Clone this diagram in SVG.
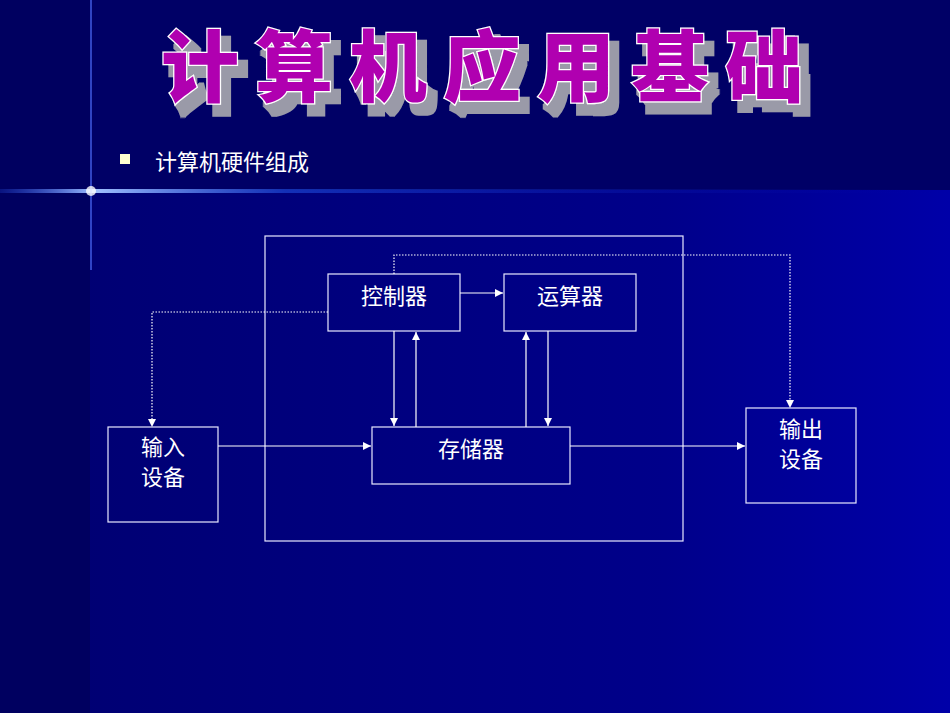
<svg xmlns="http://www.w3.org/2000/svg" width="950" height="713" viewBox="0 0 950 713">
<defs>
<linearGradient id="bg" x1="0" y1="0" x2="1" y2="0"><stop offset="0" stop-color="#000070"/><stop offset="0.7" stop-color="#00008a"/><stop offset="1" stop-color="#0000a8"/></linearGradient>
<linearGradient id="hl" x1="0" y1="0" x2="1" y2="0"><stop offset="0" stop-color="#3060ff" stop-opacity="0.2"/><stop offset="0.1" stop-color="#a0c0ff"/><stop offset="0.3" stop-color="#2050e0" stop-opacity="0.6"/><stop offset="1" stop-color="#0000a0" stop-opacity="0"/></linearGradient>
<filter id="sh" x="-5%" y="-20%" width="115%" height="150%">
<feMorphology in="SourceAlpha" operator="dilate" radius="2" result="d"/>
<feOffset in="d" dx="8" dy="10" result="o"/>
<feFlood flood-color="#9a9aa8"/><feComposite in2="o" operator="in" result="s"/>
<feMerge><feMergeNode in="s"/><feMergeNode in="SourceGraphic"/></feMerge>
</filter>
<marker id="ah" markerWidth="8" markerHeight="8" refX="8" refY="4" orient="auto" markerUnits="userSpaceOnUse"><path d="M0,0 L8,4 L0,8 Z" fill="#fff"/></marker>
<style>
.box{fill:none;stroke:#e8e8ff;stroke-width:1.2}
.ln{fill:none;stroke:#fff;stroke-width:1.2;marker-end:url(#ah)}
.dt{fill:none;stroke:#fff;stroke-width:1.2;stroke-dasharray:1.5 1.5}
.t{font-family:"Noto Sans CJK SC",sans-serif;font-size:22px;fill:#fff;text-anchor:middle}
.title{font-family:"Noto Sans CJK SC",sans-serif;font-weight:900;font-size:78px;letter-spacing:16px}
</style>
</defs>
<rect width="950" height="713" fill="url(#bg)"/>
<rect width="950" height="190" fill="#000066"/>
<rect width="90" height="713" fill="#000060"/>
<rect x="0" y="189" width="950" height="4" fill="url(#hl)"/>
<rect x="90" y="0" width="2" height="270" fill="#5070ff" opacity="0.6"/>
<circle cx="91" cy="191" r="5" fill="#fff" opacity="0.8"/>
<g id="title" filter="url(#sh)">
<text class="title" x="490" y="96" text-anchor="middle" fill="#b000b0" stroke="#fff" stroke-width="2.5" paint-order="stroke">计算机应用基础</text>
</g>
<g id="subtitle">
<rect x="120" y="154" width="10" height="10" fill="#ffffd0"/>
<text x="155" y="170" font-family="'Noto Sans CJK SC',sans-serif" font-size="22" fill="#fff">计算机硬件组成</text>
</g>
<g id="cpu-frame"><rect class="box" x="265" y="236" width="418" height="305"/></g>
<g id="controller"><rect class="box" x="328" y="274" width="132" height="57"/><text class="t" x="394" y="304">控制器</text></g>
<g id="alu"><rect class="box" x="504" y="274" width="132" height="57"/><text class="t" x="570" y="304">运算器</text></g>
<g id="memory"><rect class="box" x="372" y="427" width="198" height="57"/><text class="t" x="471" y="457">存储器</text></g>
<g id="input"><rect class="box" x="108" y="427" width="110" height="95"/><text class="t" x="163" y="455">输入</text><text class="t" x="163" y="485">设备</text></g>
<g id="output"><rect class="box" x="746" y="408" width="110" height="95"/><text class="t" x="801" y="437">输出</text><text class="t" x="801" y="467">设备</text></g>
<g id="connectors">
<line class="ln" x1="460" y1="293" x2="503" y2="293"/>
<line class="ln" x1="394" y1="331" x2="394" y2="426"/>
<line class="ln" x1="416" y1="427" x2="416" y2="332"/>
<line class="ln" x1="526" y1="427" x2="526" y2="332"/>
<line class="ln" x1="548" y1="331" x2="548" y2="426"/>
<line class="ln" x1="218" y1="446" x2="371" y2="446"/>
<line class="ln" x1="570" y1="446" x2="745" y2="446"/>
<polyline class="dt" points="328,312 152,312 152,420"/>
<path d="M148,419 L156,419 L152,427 Z" fill="#fff"/>
<polyline class="dt" points="394,274 394,255 790,255 790,401"/>
<path d="M786,400 L794,400 L790,408 Z" fill="#fff"/>
</g>
</svg>
